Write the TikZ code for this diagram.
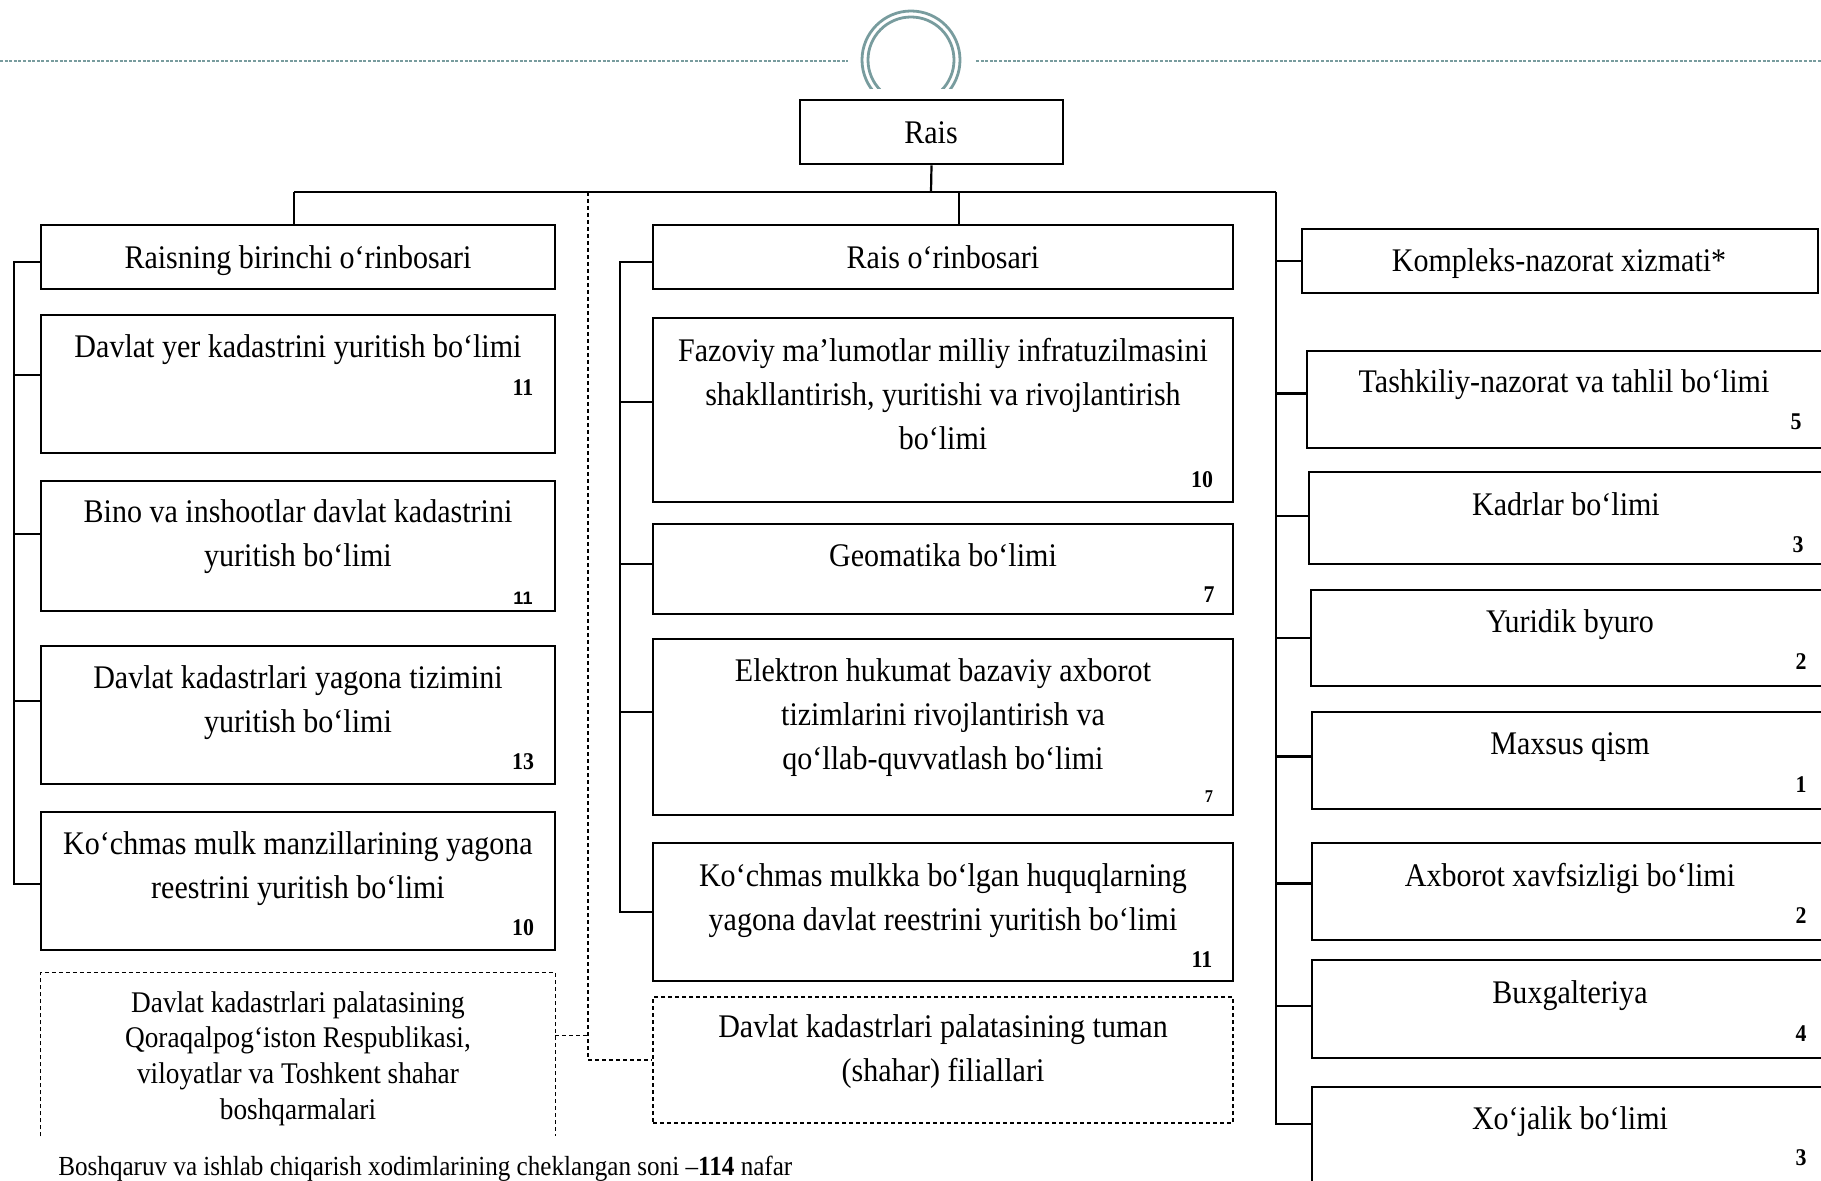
\documentclass[tikz,border=0pt]{standalone}
\usepackage{fontspec}
\setmainfont{Liberation Serif}[FakeStretch=0.91]
\newfontfamily\numsans{Liberation Sans}
\usetikzlibrary{fit}
\definecolor{tealgray}{HTML}{789C9E}
\begin{document}
\begin{tikzpicture}[x=0.5pt,y=-0.5pt,
 box/.style={draw, line width=1.4pt, inner sep=0pt},
 dbox/.style={draw, line width=0.6pt, dash pattern=on 2pt off 1.5pt, inner sep=0pt},
 conn/.style={line width=1.1pt},
 dconn/.style={line width=0.6pt, dash pattern=on 2pt off 1.5pt},
 txt/.style={align=center, inner sep=0pt, font=\fontsize{16.5}{21.8}\selectfont},
 stxt/.style={align=center, inner sep=0pt, font=\fontsize{15}{17.8}\selectfont},
 num/.style={inner sep=0pt, font=\fontsize{12}{14}\selectfont\bfseries},
 snum/.style={inner sep=0pt, font=\fontsize{9}{10}\selectfont\bfseries},
 deco/.style={tealgray, line width=1.4pt},
]
\useasboundingbox (0,0) rectangle (1821,1181);
\clip (0,0) rectangle (1821,1181);

% decoration at top
\draw[tealgray, line width=1pt, dash pattern=on 1.5pt off 0.8pt] (0,61) -- (848,61);
\draw[tealgray, line width=1pt, dash pattern=on 1.5pt off 0.8pt] (976,61) -- (1821,61);
\begin{scope}
\clip (840,0) rectangle (980,89);
\draw[deco] (911,60) circle[radius=24.5pt];
\draw[deco] (911,60) circle[radius=21.5pt];
\end{scope}

% top
\node[box, fit={(800,100)(1063,164)}] (rais) {};
\node[txt] at (931,132.5) {Rais};

% left column
\node[box, fit={(41,225)(555,289)}] (fd) {};
\node[txt] at (298,260.5) {Raisning birinchi o‘rinbosari};
\node[box, fit={(41,315)(555,453)}] (l1) {};
\node[txt] at (298,349.5) {Davlat yer kadastrini yuritish bo‘limi};
\node[num] at (523,388) {11};
\node[box, fit={(41,481)(555,611)}] (l2) {};
\node[txt] at (298,536.5) {Bino va inshootlar davlat kadastrini\\yuritish bo‘limi};
\node[snum, font=\numsans\fontsize{9}{10}\selectfont\bfseries, anchor=north] at (523,592) {11};
\node[box, fit={(41,646)(555,784)}] (l3) {};
\node[txt] at (298,702.5) {Davlat kadastrlari yagona tizimini\\yuritish bo‘limi};
\node[num] at (523,762) {13};
\node[box, fit={(41,812)(555,950)}] (l4) {};
\node[txt] at (298,868.5) {Ko‘chmas mulk manzillarining yagona\\reestrini yuritish bo‘limi};
\node[num] at (523,928) {10};
\node[inner sep=0pt, fit={(41,973)(555,1136)}] (dl) {};
\draw[dconn] (dl.south west) -- (dl.north west) -- (dl.north east) -- (dl.south east);
\node[stxt] at (298,1058.5) {Davlat kadastrlari palatasining\\Qoraqalpog‘iston Respublikasi,\\viloyatlar va Toshkent shahar\\boshqarmalari};

% middle column
\node[box, fit={(653,225)(1233,289)}] (dep) {};
\node[txt] at (943,257) {Rais o‘rinbosari};
\node[box, fit={(653,318)(1233,502)}] (m1) {};
\node[txt] at (943,394) {Fazoviy ma’lumotlar milliy infratuzilmasini\\shakllantirish, yuritishi va rivojlantirish\\bo‘limi};
\node[num] at (1202,480) {10};
\node[box, fit={(653,524)(1233,614)}] (m2) {};
\node[txt] at (943,555) {Geomatika bo‘limi};
\node[num] at (1209,595) {7};
\node[box, fit={(653,639)(1233,815)}] (m3) {};
\node[txt] at (943,717.5) {Elektron hukumat bazaviy axborot\\tizimlarini rivojlantirish va\\qo‘llab-quvvatlash bo‘limi};
\node[snum] at (1209,797) {7};
\node[box, fit={(653,843)(1233,981)}] (m4) {};
\node[txt] at (943,900.5) {Ko‘chmas mulkka bo‘lgan huquqlarning\\yagona davlat reestrini yuritish bo‘limi};
\node[num] at (1202,960) {11};
\node[dbox, fit={(653,997)(1233,1123)}] (dm) {};
\node[txt] at (943,1051.5) {Davlat kadastrlari palatasining tuman\\(shahar) filiallari};

% right column
\node[box, fit={(1302,229)(1818,293)}] (r0) {};
\node[txt] at (1559,263.5) {Kompleks-nazorat xizmati*};
\node[box, fit={(1307,351)(1835,448)}] (r1) {};
\node[txt] at (1564,384.5) {Tashkiliy-nazorat va tahlil bo‘limi};
\node[num] at (1796,422) {5};
\node[box, fit={(1309,472)(1835,564)}] (r2) {};
\node[txt] at (1566,504) {Kadrlar bo‘limi};
\node[num] at (1798,545) {3};
\node[box, fit={(1311,590)(1835,686)}] (r3) {};
\node[txt] at (1570,624.5) {Yuridik byuro};
\node[num] at (1801,662) {2};
\node[box, fit={(1312,712)(1835,809)}] (r4) {};
\node[txt] at (1570,747.5) {Maxsus qism};
\node[num] at (1801,785) {1};
\node[box, fit={(1312,843)(1835,940)}] (r5) {};
\node[txt] at (1570,878.5) {Axborot xavfsizligi bo‘limi};
\node[num] at (1801,916) {2};
\node[box, fit={(1312,960)(1835,1058)}] (r6) {};
\node[txt] at (1570,995.5) {Buxgalteriya};
\node[num] at (1801,1034) {4};
\node[box, fit={(1312,1087)(1835,1200)}] (r7) {};
\node[txt] at (1570,1121.5) {Xo‘jalik bo‘limi};
\node[num] at (1801,1158) {3};

% footer
\node[anchor=west, inner sep=0pt, font=\fontsize{13.8}{16}\selectfont] (foot) at (58,1168.5) {Boshqaruv va ishlab chiqarish xodimlarining cheklangan soni –\textbf{114} nafar};

% connectors: main tree
\coordinate (hub) at (931,192);
\coordinate (barL) at (294,192);
\coordinate (barD) at (588,192);
\coordinate (barM) at (959,192);
\coordinate (barR) at (1276,192);
\draw[conn] (rais.south) -- (hub);
\draw[conn] (barL) -- (barR);
\draw[conn] (barL) -- (barL |- fd.north);
\draw[conn] (barM) -- (barM |- dep.north);
\draw[dconn] (barD) |- (dm.west);
\coordinate (dlc) at ([yshift=9.5pt]dl.east);
\draw[dconn] (dlc) -- (dlc -| barD);

% left bus
\coordinate (lb) at (14,0);
\coordinate (cfd) at ([yshift=-2.5pt]fd.west);
\coordinate (c1) at ([yshift=4.5pt]l1.west);
\coordinate (c2) at ([yshift=6pt]l2.west);
\coordinate (c3) at ([yshift=7pt]l3.west);
\coordinate (c4) at ([yshift=-1.5pt]l4.west);
\draw[conn] (cfd) -- (cfd -| lb) -- (c4 -| lb) -- (c4);
\foreach \c in {c1,c2,c3} \draw[conn] (\c) -- (\c -| lb);

% middle bus
\coordinate (mb) at (620,0);
\coordinate (cdep) at ([yshift=-2.5pt]dep.west);
\coordinate (cm1) at ([yshift=4pt]m1.west);
\coordinate (cm2) at ([yshift=2.5pt]m2.west);
\coordinate (cm3) at ([yshift=7.5pt]m3.west);
\coordinate (cm4) at (m4.west);
\draw[conn] (cdep) -- (cdep -| mb) -- (cm4 -| mb) -- (cm4);
\foreach \c in {cm1,cm2,cm3} \draw[conn] (\c) -- (\c -| mb);

% right bus
\coordinate (cr0) at (r0.west);
\coordinate (cr1) at ([yshift=3pt]r1.west);
\coordinate (cr2) at ([yshift=1pt]r2.west);
\coordinate (cr3) at (r3.west);
\coordinate (cr4) at ([yshift=2pt]r4.west);
\coordinate (cr5) at ([yshift=4pt]r5.west);
\coordinate (cr6) at ([yshift=1.5pt]r6.west);
\coordinate (cr7) at ([yshift=9.75pt]r7.west);
\draw[conn] (barR) -- (cr7 -| barR) -- (cr7);
\foreach \c in {cr0,cr1,cr2,cr3,cr4,cr5,cr6} \draw[conn] (\c -| barR) -- (\c);
\end{tikzpicture}
\end{document}
